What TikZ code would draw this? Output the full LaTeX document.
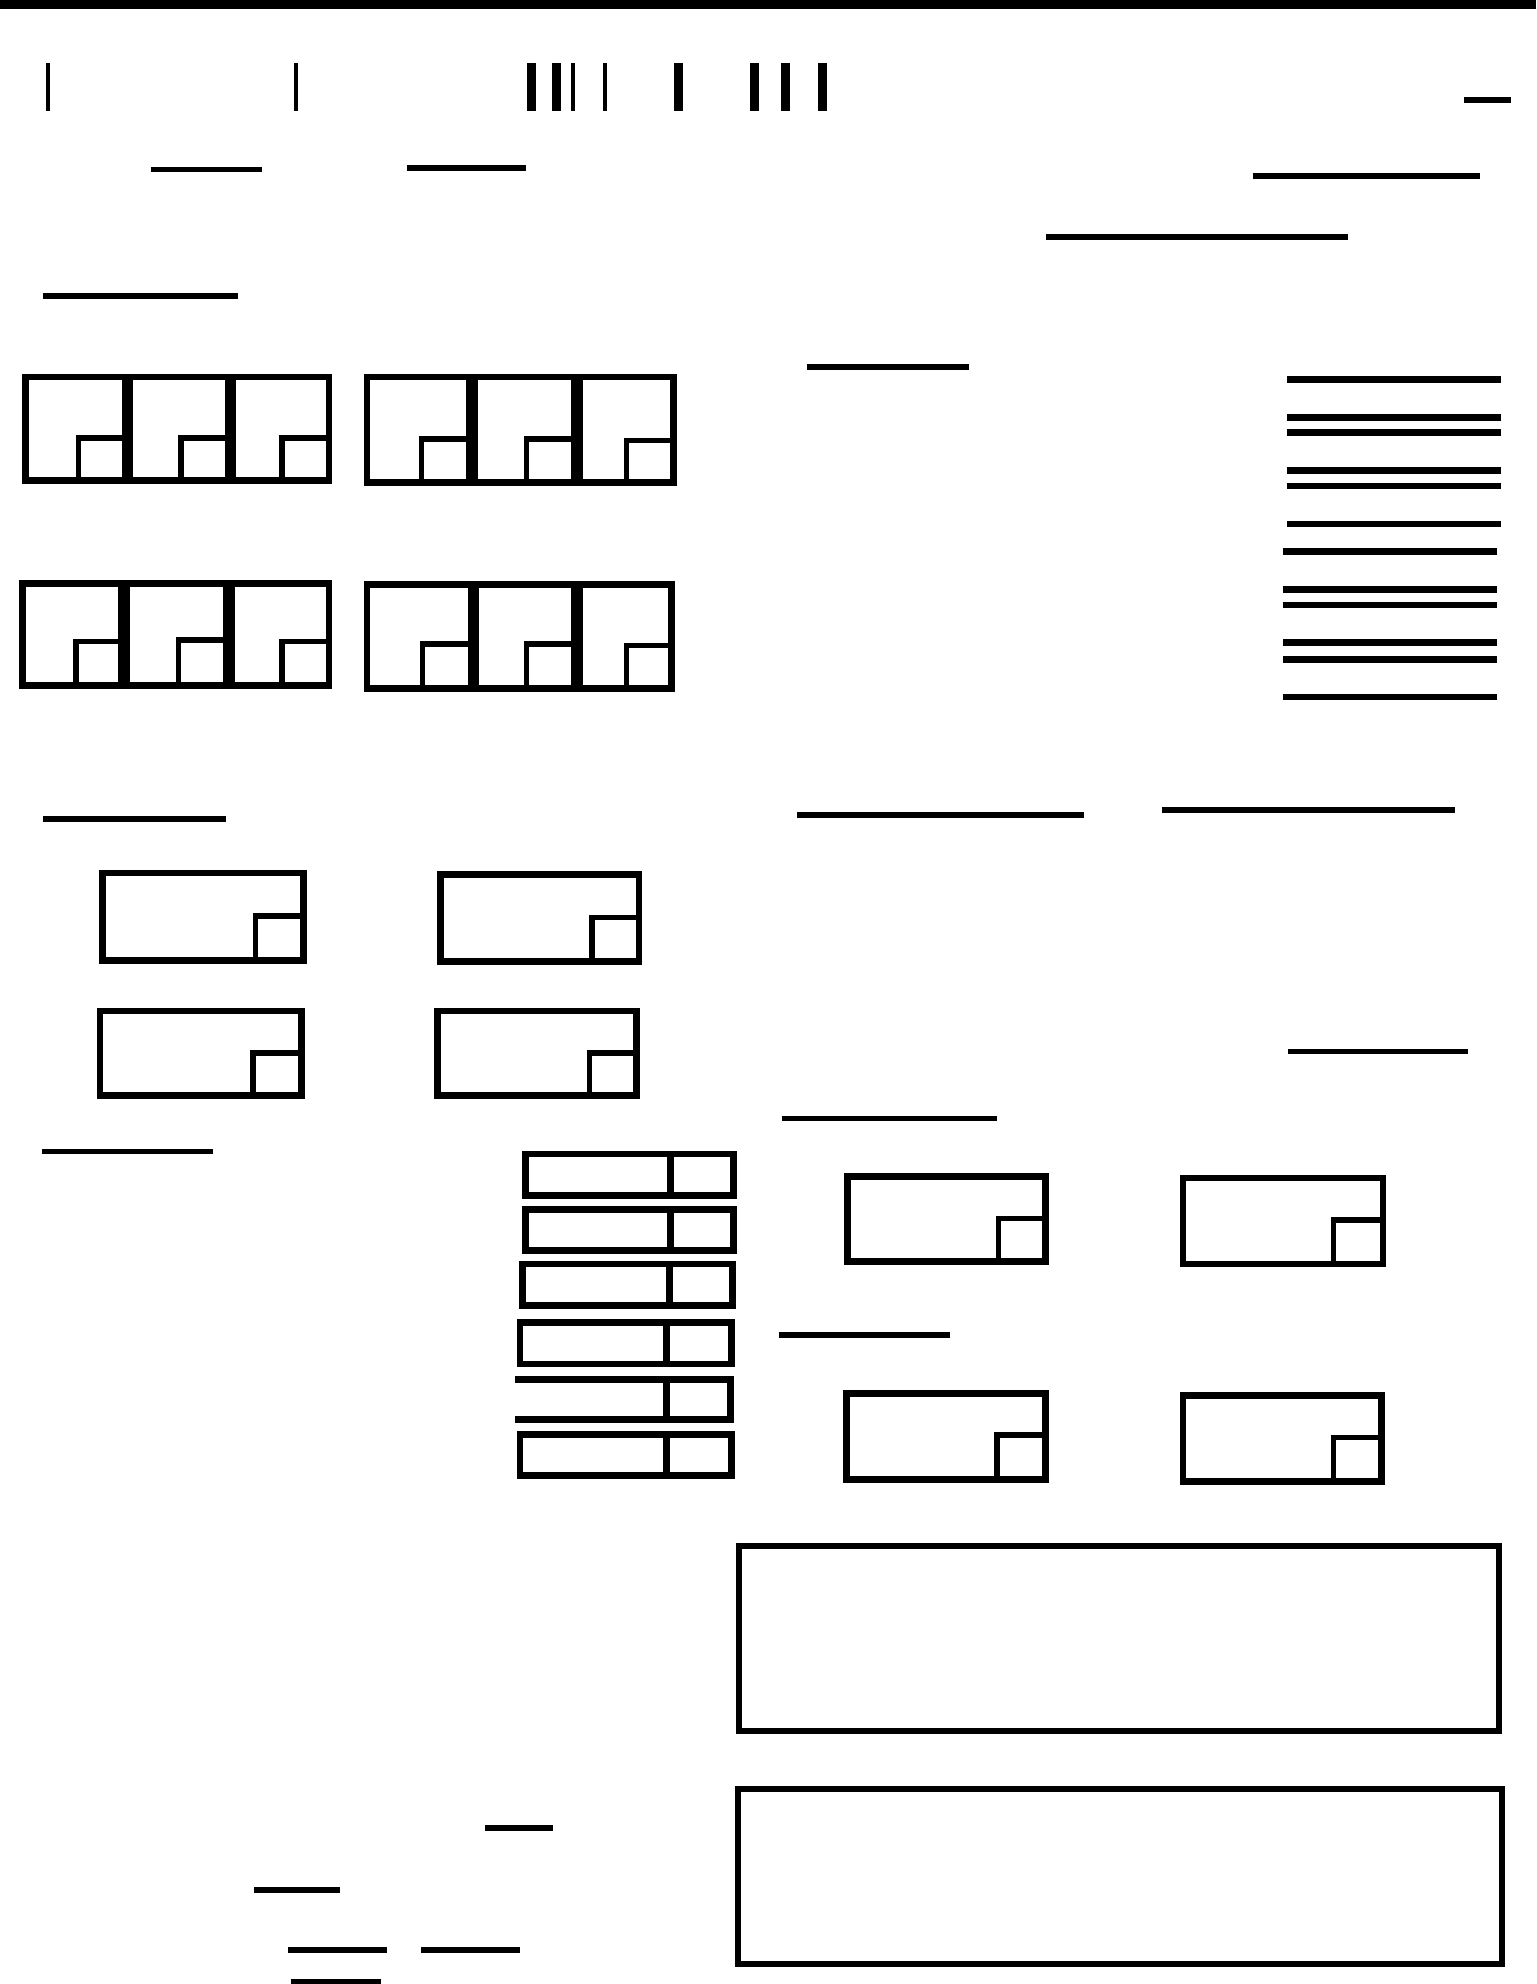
\documentclass[tikz,border=0pt]{standalone}
\begin{document}
\begin{tikzpicture}[x=0.5pt,y=-0.5pt,
  boxline/.style={line width=2.7pt,line cap=rect},
  divline/.style={line width=4.4pt},
  sqline/.style={line width=2.2pt},
  hline/.style={line width=2.3pt},
  rline/.style={line width=2.6pt},
  thintick/.style={line width=1.5pt},
  thicktick/.style={line width=3.6pt},
  bigbox/.style={line width=2.4pt,line cap=rect}]
\useasboundingbox (0,0) rectangle (1214,1568);
\clip (0,0) rectangle (1214,1568);
\newcommand{\wbox}[6]{%
  \draw[boxline] (#1,#2) rectangle (#3,#4);
  \draw[sqline] (#3-#5,#4) |- (#3,#4-#6);}
% top bar
\fill (0,0) rectangle (1214,7);
% vertical ticks
\foreach \x in {38,234,453,478} \draw[thintick] (\x,50) -- (\x,88);
\foreach \x in {420,440,536,596,621,650} \draw[thicktick] (\x,50) -- (\x,88);
\draw[hline] (1157,79) -- (1194,79);
% horizontal label lines
\draw[hline] (119,134) -- (207,134);
\draw[hline] (322,133) -- (416,133);
\draw[hline] (990,139) -- (1170,139);
\draw[hline] (827,187) -- (1065,187);
\draw[hline] (34,234) -- (188,234);
\draw[hline] (638,290) -- (766,290);
% right stack of lines
\foreach \y in {300,330,342,372,384,414} \draw[rline] (1017,\y) -- (1186,\y);
\foreach \y in {436,466,478,508,521,551} \draw[rline] (1014,\y) -- (1183,\y);
% row 1 grids
\wbox{20}{298}{100}{380}{38}{34}
\wbox{100}{298}{181}{380}{38}{34}
\wbox{181}{298}{260}{380}{37}{34}
\draw[divline] (101,298) -- (101,380) (182,298) -- (182,380);
\wbox{290}{298}{372}{381}{39}{34}
\wbox{372}{298}{455}{381}{39}{34}
\wbox{455}{298}{532}{381}{37}{33}
\draw[divline] (373,298) -- (373,381) (456,298) -- (456,381);
% row 2 grids
\wbox{18}{461}{97}{542}{37}{35}
\wbox{97}{461}{180}{542}{39}{36}
\wbox{180}{461}{260}{542}{37}{35}
\draw[divline] (98,461) -- (98,542) (181,461) -- (181,542);
\wbox{290}{462}{373}{544}{39}{35}
\wbox{373}{462}{455}{544}{39}{35}
\wbox{455}{462}{531}{544}{36}{34}
\draw[divline] (374,462) -- (374,544) (456,462) -- (456,544);
% section lines
\draw[hline] (34,647) -- (179,647);
\draw[hline] (630,644) -- (857,644);
\draw[hline] (918,640) -- (1150,640);
\draw[hline] (1018,831) -- (1160,831);
\draw[hline] (618,884) -- (788,884);
\draw[hline] (33,910) -- (168,910);
\draw[hline] (616,1055) -- (751,1055);
\draw[hline] (383,1445) -- (437,1445);
\draw[hline] (201,1494) -- (269,1494);
\draw[hline] (228,1541) -- (306,1541);
\draw[hline] (333,1541) -- (411,1541);
\draw[hline] (230,1566) -- (301,1566);
% wide boxes
\wbox{81}{690}{240}{759}{38}{35}
\wbox{348}{691}{505}{760}{37}{35}
\wbox{79}{799}{238}{866}{38}{34}
\wbox{346}{799}{503}{866}{37}{34}
\wbox{670}{930}{826}{997}{37}{34}
\wbox{935}{931}{1093}{999}{39}{35}
\wbox{669}{1101}{826}{1169}{38}{35}
\wbox{935}{1103}{1092}{1171}{38}{35}
% stacked bars
\draw[boxline] (415,912) rectangle (580,945); \draw[boxline] (530,912) -- (530,945);
\draw[boxline] (415,956) rectangle (580,988); \draw[boxline] (530,956) -- (530,988);
\draw[boxline] (413,999) rectangle (579,1032); \draw[boxline] (529,999) -- (529,1032);
\draw[boxline] (411,1045) rectangle (578,1078); \draw[boxline] (527,1045) -- (527,1078);
\draw[boxline] (410,1090) -- (577,1090) -- (577,1122) -- (410,1122); \draw[boxline] (527,1090) -- (527,1122);
\draw[boxline] (411,1134) rectangle (578,1166); \draw[boxline] (527,1134) -- (527,1166);
% big boxes
\draw[bigbox] (584,1222) rectangle (1185,1368);
\draw[bigbox] (583,1414) rectangle (1187,1552);
\end{tikzpicture}
\end{document}
